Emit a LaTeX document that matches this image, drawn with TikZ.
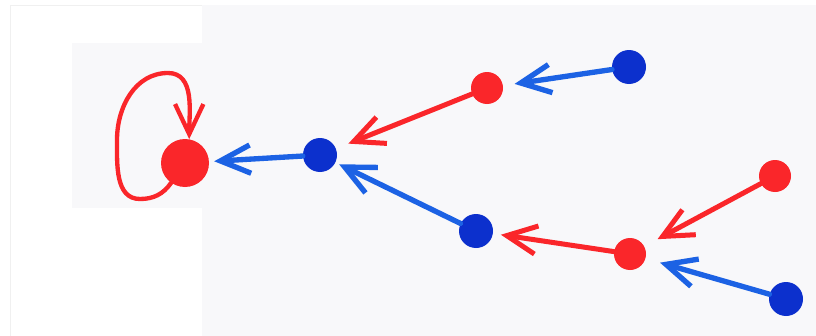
\documentclass[tikz,border=0pt]{standalone}
\usepackage{tikz}
\usetikzlibrary{arrows.meta}
\definecolor{mred}{RGB}{250,38,42}
\definecolor{mblue}{RGB}{12,48,205}
\definecolor{mblueline}{RGB}{28,98,228}
\definecolor{paper}{RGB}{248,248,250}

\begin{document}
\begin{tikzpicture}[x=0.3mm, y=-0.3mm,
  >={Straight Barb[length=9mm, width=8.5mm]},
  reddot/.style={circle, fill=mred, inner sep=0pt, minimum size=9.6mm},
  bluedot/.style={circle, fill=mblue, inner sep=0pt, minimum size=10.2mm},
  redarr/.style={->, draw=mred, line width=1.5mm, line cap=round, line join=round},
  bluearr/.style={->, draw=mblueline, line width=1.6mm, line cap=round, line join=round}]
% the sheet: white margin, scanned paper, pasted patch round the root
\useasboundingbox (0,0) rectangle (816,336);
\fill[white] (0,0) rectangle (816,336);
\fill[paper] (202,5) rectangle (816,336);
\fill[paper] (72,43) rectangle (213,208);
\draw[black!6, line width=0.3mm] (10,336) -- (10,5) -- (202,5);
% the dots
\node[reddot, minimum size=14.4mm] (root) at (185,163) {};
\node[bluedot] (b1) at (320,155) {};
\node[reddot] (r1) at (487,88) {};
\node[bluedot] (b2) at (629,67) {};
\node[bluedot] (b3) at (476,231) {};
\node[reddot] (r2) at (630,254) {};
\node[reddot] (r3) at (775,176) {};
\node[bluedot] (b4) at (786,299) {};
% every dot points to its parent; the root points to itself
\foreach \s/\t/\g in {b1/root/1.5mm, b2/r1/3.5mm, b3/b1/1.2mm, b4/r2/4.5mm}
  \draw[bluearr, shorten >=\g] (\s) -- (\t);
\foreach \s/\t/\g in {r1/b1/4mm, r2/b3/2.4mm, r3/r2/4.5mm}
  \draw[redarr, shorten >=\g] (\s) -- (\t);
\draw[redarr, line width=1.3mm] (root.235) to[out=235, in=0] (140,199)
  to[out=180, in=-90] (117,140) to[out=90, in=180] (168,73)
  to[out=0, in=90] (root.80);
\end{tikzpicture}
\end{document}
